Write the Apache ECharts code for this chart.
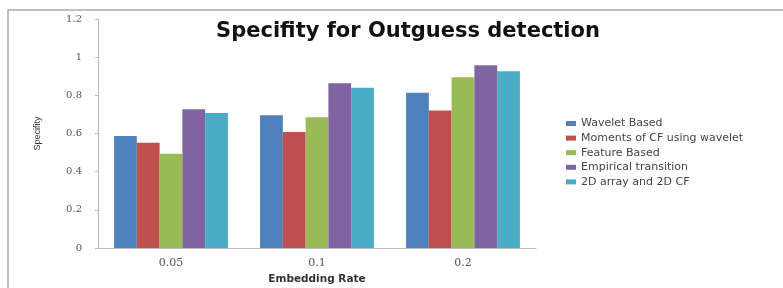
<!DOCTYPE HTML>
<html>
<head>
    <meta charset="UTF-8">
    <title>Specifity for Outguess detection</title>
    <style>
        body{ margin:0; background-color:#ffffff; }
        #main{ width:783px; height:288px; }
    </style>
    <script src="https://cdn.jsdelivr.net/npm/echarts@6/dist/echarts.min.js"></script>
</head>
<body>
<div id="main"></div>
<script type="text/javascript">
    // data
    var rates = ['0.05', '0.1', '0.2'];
    var seriesNames = ['Wavelet Based', 'Moments of CF using wavelet', 'Feature Based', 'Empirical transition', '2D array and 2D CF'];
    var waveletBased = [0.587, 0.695, 0.814];
    var momentsCF = [0.552, 0.608, 0.72];
    var featureBased = [0.494, 0.685, 0.895];
    var empirical = [0.727, 0.863, 0.957];
    var array2D = [0.708, 0.84, 0.926];
    var yTicks = [0, 0.2, 0.4, 0.6, 0.8, 1, 1.2];

    var colors = ['#4F81BD', '#C0504D', '#9BBB59', '#8064A2', '#4BACC6'];
    var allValues = [waveletBased, momentsCF, featureBased, empirical, array2D];

    var myChart = echarts.init(document.getElementById('main'));

    var series = [];
    for (var i = 0; i < seriesNames.length; i++) {
        series.push({
            name: seriesNames[i],
            type: 'bar',
            barGap: '0%',
            barCategoryGap: '22%',
            itemStyle: { color: colors[i] },
            data: allValues[i]
        });
    }

    var option = {
        backgroundColor: '#ffffff',
        animation: false,
        color: colors,
        title: {
            text: 'Specifity for Outguess detection',
            left: 403,
            top: 16,
            textAlign: 'center',
            textStyle: {
                fontFamily: 'DejaVu Sans',
                fontWeight: 'bold',
                fontSize: 21,
                color: '#111'
            }
        },
        legend: {
            orient: 'vertical',
            left: 561,
            top: 113,
            itemWidth: 10,
            itemHeight: 5,
            itemGap: 3.6,
            icon: 'rect',
            textStyle: { fontFamily: 'DejaVu Sans', fontSize: 11, lineHeight: 10, color: '#444' },
            data: seriesNames
        },
        grid: { left: 98, right: 247, top: 19, bottom: 40, outerBoundsMode: 'none' },
        xAxis: {
            type: 'category',
            data: rates,
            name: 'Embedding Rate',
            nameLocation: 'middle',
            nameGap: 25,
            nameTextStyle: { fontFamily: 'DejaVu Sans', fontWeight: 'bold', fontSize: 10.5, color: '#333' },
            axisLine: { lineStyle: { color: '#bbb' } },
            axisTick: { lineStyle: { color: '#bbb' }, length: 3 },
            axisLabel: { fontFamily: 'DejaVu Serif', fontSize: 11, color: '#555', margin: 10 }
        },
        yAxis: {
            type: 'value',
            min: yTicks[0],
            max: yTicks[yTicks.length - 1],
            interval: 0.2,
            name: 'Specifity',
            nameLocation: 'middle',
            nameGap: 56,
            nameTextStyle: { fontFamily: 'Liberation Sans', fontSize: 9, color: '#333' },
            axisLine: { show: true, lineStyle: { color: '#bbb' } },
            axisTick: { show: true, lineStyle: { color: '#bbb' }, length: 3 },
            splitLine: { show: false },
            axisLabel: { fontFamily: 'DejaVu Serif', fontSize: 10, color: '#555', margin: 16 }
        },
        graphic: [{
            type: 'rect',
            shape: { x: 8, y: 10, width: 800, height: 300 },
            style: { fill: 'none', stroke: '#aaa', lineWidth: 1.5 },
            silent: true
        }],
        series: series
    };
    myChart.setOption(option);
</script>
</body>
</html>
